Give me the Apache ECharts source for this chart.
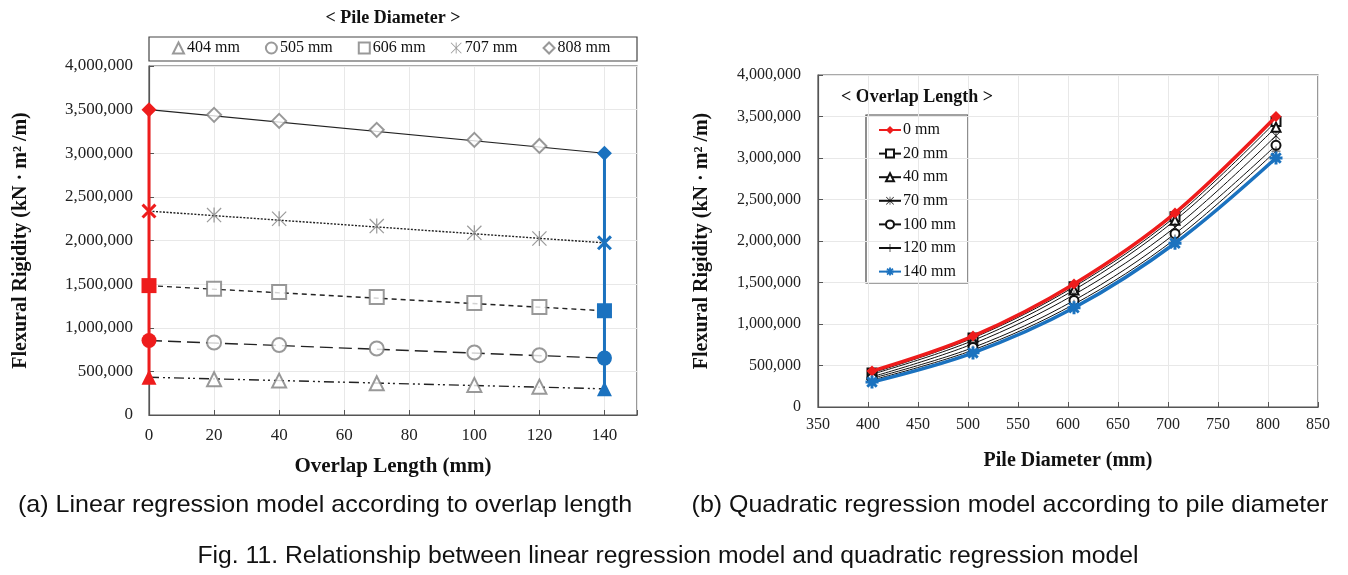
<!DOCTYPE html>
<html><head><meta charset="utf-8">
<script src="https://cdn.jsdelivr.net/npm/echarts@6/dist/echarts.min.js"></script>
<style>html,body{margin:0;padding:0;background:#fff}#c{width:1348px;height:575px}</style>
</head><body><div id="c"></div>
<script>
// ---- data ----
const overlaps = [0, 20, 40, 70, 100, 120, 140];           // mm
const diameters = [404, 505, 606, 707, 808];              // mm
const rig404 = [433000, 410000, 394000, 364000, 345000, 325000, 300000];
const rig505 = [854000, 831000, 801000, 762000, 716000, 686000, 652000];
const rig606 = [1483000, 1448000, 1410000, 1353000, 1284000, 1238000, 1195000];
const rig707 = [2337000, 2291000, 2249000, 2165000, 2088000, 2023000, 1973000];
const rig808 = [3500000, 3440000, 3371000, 3268000, 3153000, 3084000, 3000000];
const diameterNames = ['404 mm', '505 mm', '606 mm', '707 mm', '808 mm'];
const overlapNames = ['0 mm', '20 mm', '40 mm', '70 mm', '100 mm', '120 mm', '140 mm'];

// ---- styles ----
const allRig = [rig404, rig505, rig606, rig707, rig808];
const SERIF = 'Liberation Serif';
const RED = '#ee1c1c', BLUE = '#1b72bf', GRAY = '#7f7f7f';
const STAR = 'path://M-0.6,-7.5L0.6,-7.5L0.6,7.5L-0.6,7.5Z M-7.5,-6.65L-6.65,-7.5L7.5,6.65L6.65,7.5Z M-7.5,6.65L6.65,-7.5L7.5,-6.65L-6.65,7.5Z';
const XSYM = 'path://M-7,-5L-5,-7L7,5L5,7Z M-7,5L5,-7L7,-5L-5,7Z';
const PLUS = 'path://M-0.6,-7L0.6,-7L0.6,7L-0.6,7Z M-7,-0.6L7,-0.6L7,0.6L-7,0.6Z';
const BSTAR = 'path://M-1.6,-7L1.6,-7L1.6,7L-1.6,7Z M-7,-1.6L7,-1.6L7,1.6L-7,1.6Z M-6.2,-4L-4,-6.2L6.2,4L4,6.2Z M-6.2,4L4,-6.2L6.2,-4L-4,6.2Z';
const hollowSym = ['emptyTriangle', 'emptyCircle', 'emptyRect', STAR, 'emptyDiamond'];
const filledSym = ['triangle', 'circle', 'rect', XSYM, 'diamond'];
const dashes = [[10, 4, 2, 3, 2, 4], [13, 6], [5, 4], [2, 1.5], 'solid'];

const fmt = v => v.toLocaleString('en-US');
const axisLine = {show: true, lineStyle: {color: '#555', width: 1.2}};
const split = {show: true, lineStyle: {color: '#e8e8e8', width: 1}};
const lbl = {color: '#222', fontFamily: SERIF, fontSize: 17};

const series = [];
// left chart: regression lines, data points, end points
allRig.forEach((arr, i) => {
  series.push({type: 'line', xAxisIndex: 0, yAxisIndex: 0, silent: true, symbol: 'none', z: 2,
    data: [[overlaps[0], arr[0]], [overlaps[overlaps.length - 1], arr[arr.length - 1]]],
    lineStyle: {color: '#222', width: i === 4 ? 1.2 : 1.4, type: dashes[i]}});
  series.push({type: 'scatter', name: diameterNames[i], xAxisIndex: 0, yAxisIndex: 0, z: 3,
    data: overlaps.slice(1, -1).map((o, k) => [o, arr[k + 1]]),
    symbol: hollowSym[i], symbolSize: i === 3 ? 15 : 14,
    itemStyle: {color: GRAY, borderWidth: 1}});
});
series.push({type: 'line', xAxisIndex: 0, yAxisIndex: 0, z: 4, symbolSize: 15,
  data: allRig.map((a, i) => ({value: [overlaps[0], a[0]], symbol: filledSym[i]})),
  lineStyle: {color: RED, width: 3}, itemStyle: {color: RED}});
series.push({type: 'line', xAxisIndex: 0, yAxisIndex: 0, z: 4, symbolSize: 15,
  data: allRig.map((a, i) => ({value: [overlaps[overlaps.length - 1], a[a.length - 1]], symbol: filledSym[i]})),
  lineStyle: {color: BLUE, width: 3}, itemStyle: {color: BLUE}});

// right chart: one curve per overlap length
const rSym = ['diamond', 'emptyRect', 'emptyTriangle', STAR, 'emptyCircle', PLUS, BSTAR];
overlaps.forEach((o, j) => {
  const isRed = j === 0, isBlue = j === overlaps.length - 1;
  const col = isRed ? RED : isBlue ? BLUE : '#111';
  series.push({type: 'line', name: overlapNames[j], xAxisIndex: 1, yAxisIndex: 1,
    smooth: 0.35, z: isRed || isBlue ? 5 : 3,
    data: diameters.map((d, i) => [d, allRig[i][j]]),
    symbol: rSym[j], symbolSize: isBlue ? 13 : (isRed ? 11 : 9),
    lineStyle: {color: col, width: isRed || isBlue ? 3.5 : 1},
    itemStyle: {color: col, borderWidth: 1}});
});

const chart = echarts.init(document.getElementById('c'), null, {renderer: 'canvas'});
chart.setOption({
  animation: false,
  backgroundColor: '#fff',
  grid: [
    {left: 149, right: 711, top: 66, bottom: 160, show: true, borderColor: '#555', borderWidth: 1.2, backgroundColor: 'transparent'},
    {left: 818, right: 30, top: 75, bottom: 168, show: true, borderColor: '#555', borderWidth: 1.2, backgroundColor: 'transparent'}
  ],
  xAxis: [
    {type: 'value', gridIndex: 0, min: 0, max: 150, interval: 20,
      name: 'Overlap Length (mm)', nameLocation: 'middle', nameGap: 41,
      nameTextStyle: {fontFamily: SERIF, fontWeight: 'bold', fontSize: 21, color: '#111'},
      axisLine, axisTick: {show: true, inside: true, length: 5, lineStyle: {color: '#555'}},
      axisLabel: Object.assign({}, lbl, {margin: 12, formatter: v => v > 140 ? '' : String(v)}),
      splitLine: split},
    {type: 'value', gridIndex: 1, min: 350, max: 850, interval: 50,
      name: 'Pile Diameter (mm)', nameLocation: 'middle', nameGap: 44,
      nameTextStyle: {fontFamily: SERIF, fontWeight: 'bold', fontSize: 20, color: '#111'},
      axisLine, axisTick: {show: true, inside: true, length: 5, lineStyle: {color: '#555'}},
      axisLabel: Object.assign({}, lbl, {fontSize: 16, margin: 10}),
      splitLine: split}
  ],
  yAxis: [
    {type: 'value', gridIndex: 0, min: 0, max: 4000000, interval: 500000,
      name: 'Flexural Rigidity (kN · m² /m)', nameLocation: 'middle', nameGap: 118,
      nameTextStyle: {fontFamily: SERIF, fontWeight: 'bold', fontSize: 20, color: '#111'},
      axisLine, axisTick: {show: true, inside: true, length: 5, lineStyle: {color: '#555'}},
      axisLabel: Object.assign({}, lbl, {margin: 16, formatter: fmt}),
      splitLine: split},
    {type: 'value', gridIndex: 1, min: 0, max: 4000000, interval: 500000,
      name: 'Flexural Rigidity (kN · m² /m)', nameLocation: 'middle', nameGap: 106,
      nameTextStyle: {fontFamily: SERIF, fontWeight: 'bold', fontSize: 20, color: '#111'},
      axisLine, axisTick: {show: true, inside: true, length: 5, lineStyle: {color: '#555'}},
      axisLabel: Object.assign({}, lbl, {fontSize: 16, margin: 17, formatter: fmt}),
      splitLine: split}
  ],
  legend: [
    {data: diameterNames, left: 172, top: 40, padding: 0, itemGap: 25, itemWidth: 11, itemHeight: 11,
      textStyle: {fontFamily: SERIF, fontSize: 16, color: '#111', padding: [0, 0, 0, -2]}, selectedMode: false},
    {data: overlapNames, orient: 'vertical', left: 878, top: 122, padding: 0, itemGap: 7.6, itemWidth: 22, itemHeight: 10,
      textStyle: {fontFamily: SERIF, fontSize: 16, color: '#111', lineHeight: 16, padding: [0, 0, 0, -3]}, selectedMode: false}
  ],
  graphic: [
    {type: 'rect', shape: {x: 149, y: 37, width: 488, height: 24}, style: {fill: 'none', stroke: '#444', lineWidth: 1.2}, z: 1},
    {type: 'rect', shape: {x: 866, y: 115, width: 102, height: 168}, style: {fill: '#fff', stroke: '#444', lineWidth: 1.2}, z: 0},
    {type: 'text', x: 393, y: 18, style: {text: '< Pile Diameter >', font: 'bold 18px "Liberation Serif"', fill: '#111', align: 'center', verticalAlign: 'middle'}},
    {type: 'text', x: 917, y: 97, style: {text: '< Overlap Length >', font: 'bold 18px "Liberation Serif"', fill: '#111', align: 'center', verticalAlign: 'middle'}},
    {type: 'text', x: 325, y: 505, scaleX: 1.044, style: {text: '(a) Linear regression model according to overlap length', font: '24px "Liberation Sans"', fill: '#111', align: 'center', verticalAlign: 'middle'}},
    {type: 'text', x: 1010, y: 505, scaleX: 1.04, style: {text: '(b) Quadratic regression model according to pile diameter', font: '24px "Liberation Sans"', fill: '#111', align: 'center', verticalAlign: 'middle'}},
    {type: 'text', x: 668, y: 557, scaleX: 1.075, style: {text: 'Fig. 11. Relationship between linear regression model and quadratic regression model', font: '23px "Liberation Sans"', fill: '#111', align: 'center', verticalAlign: 'middle'}}
  ],
  series
});
</script></body></html>
